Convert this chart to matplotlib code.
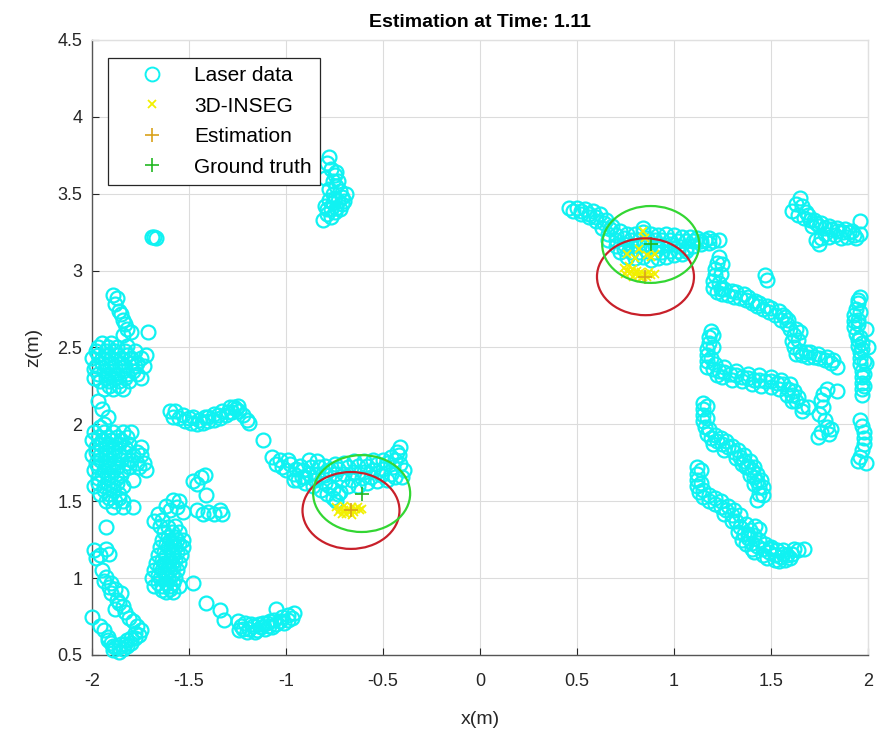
import matplotlib
matplotlib.use("Agg")
import matplotlib.pyplot as plt
from matplotlib.patches import Ellipse
from matplotlib.lines import Line2D

plt.rcParams['font.family'] = ['Liberation Sans', 'DejaVu Sans']

# ---------------- data ----------------
left_tower = [(-1.89,2.84),(-1.87,2.82),(-1.88,2.78),(-1.86,2.74),(-1.85,2.72),(-1.84,2.68),
              (-1.83,2.65),(-1.82,2.62),(-1.80,2.60),(-1.71,2.60),(-1.84,2.58),
              (-1.95,2.53),(-1.90,2.53),
              (-1.98,2.48),(-1.93,2.48),(-1.88,2.48),(-1.83,2.48),(-1.78,2.48),(-1.72,2.45),
              (-2.00,2.43),(-1.95,2.43),(-1.90,2.43),(-1.85,2.43),(-1.80,2.43),(-1.75,2.43),
              (-1.98,2.38),(-1.93,2.38),(-1.88,2.38),(-1.83,2.38),(-1.78,2.38),(-1.73,2.38),
              (-1.97,2.33),(-1.92,2.33),(-1.87,2.33),(-1.82,2.33),(-1.77,2.33),(-1.75,2.30),
              (-1.96,2.28),(-1.91,2.28),(-1.86,2.28),(-1.81,2.28),
              (-1.94,2.23),(-1.89,2.23),(-1.84,2.23),
              (-1.97,2.15),(-1.95,2.10),(-1.92,2.05),(-1.94,2.00),(-1.96,1.98),
              (-1.97,2.45),(-1.92,2.45),(-1.87,2.45),(-1.82,2.45),(-1.77,2.40),(-1.95,2.40),
              (-1.90,2.40),(-1.85,2.40),(-1.80,2.40),(-1.94,2.35),(-1.89,2.35),(-1.84,2.35),
              (-1.79,2.35),(-1.93,2.30),(-1.88,2.30),(-1.83,2.30),(-1.91,2.25),(-1.86,2.25),
              (-1.99,2.36),(-1.99,2.30),(-1.97,2.50),(-1.92,2.50),(-1.87,2.50),(-1.82,2.51)]
left_blob = [(-1.99,1.95),(-1.94,1.95),(-1.89,1.95),(-1.84,1.95),(-1.80,1.95),
             (-2.00,1.90),(-1.95,1.90),(-1.90,1.90),(-1.85,1.90),
             (-1.98,1.85),(-1.93,1.85),(-1.88,1.85),(-1.83,1.85),(-1.75,1.85),
             (-2.00,1.80),(-1.96,1.80),(-1.91,1.80),(-1.86,1.80),(-1.79,1.80),(-1.75,1.80),
             (-1.98,1.75),(-1.93,1.75),(-1.88,1.75),(-1.82,1.75),(-1.77,1.75),(-1.73,1.75),
             (-1.99,1.70),(-1.94,1.70),(-1.89,1.70),(-1.84,1.70),(-1.72,1.70),
             (-1.97,1.65),(-1.92,1.65),(-1.87,1.65),(-1.79,1.64),
             (-1.99,1.60),(-1.94,1.60),(-1.89,1.60),(-1.84,1.60),
             (-1.96,1.55),(-1.91,1.55),(-1.86,1.55),
             (-1.93,1.50),(-1.88,1.50),(-1.84,1.50),
             (-1.89,1.46),(-1.84,1.46),(-1.79,1.46),
             (-1.97,1.92),(-1.92,1.92),(-1.87,1.92),(-1.82,1.92),(-1.96,1.87),(-1.91,1.87),
             (-1.86,1.87),(-1.81,1.87),(-1.98,1.82),(-1.93,1.82),(-1.88,1.82),(-1.83,1.82),
             (-1.77,1.82),(-1.96,1.77),(-1.91,1.77),(-1.85,1.77),(-1.80,1.77),(-1.97,1.72),
             (-1.92,1.72),(-1.87,1.72),(-1.81,1.72),(-1.76,1.72),(-1.95,1.67),(-1.90,1.67),
             (-1.85,1.67),(-1.97,1.62),(-1.92,1.62),(-1.87,1.62),(-1.94,1.57),(-1.89,1.57),
             (-1.91,1.52),(-1.86,1.52)]
left_low = [(-1.93,1.33),(-1.99,1.18),(-1.96,1.15),(-1.93,1.19),(-1.91,1.16),(-1.98,1.13),
            (-1.95,1.05),(-1.93,1.01),(-1.90,0.97),(-1.88,0.93),(-1.85,0.90),(-1.87,0.86),
            (-1.84,0.82),(-1.88,0.80),(-1.83,0.78),(-2.00,0.75),
            (-1.96,0.69),(-1.94,0.66),(-1.92,0.62),(-1.90,0.58),(-1.88,0.55),(-1.86,0.52),
            (-1.84,0.54),(-1.82,0.56),(-1.80,0.58),(-1.78,0.61),(-1.76,0.63),(-1.75,0.66),
            (-1.77,0.69),(-1.79,0.72),(-1.81,0.74),(-1.89,0.53),(-1.85,0.57),
            (-1.92,0.60),(-1.89,0.56),(-1.86,0.55),(-1.83,0.57),(-1.80,0.61),(-1.78,0.64),
            (-1.82,0.60),(-1.94,0.98),(-1.91,0.94),(-1.86,0.84),(-1.90,0.90)]
small_top = [(-1.69,3.22),(-1.68,3.22),(-1.67,3.21)]
bar_top = [(-1.60,2.09),(-1.57,2.09),(-1.55,2.04),(-1.52,2.02),(-1.49,2.01),(-1.46,2.00),
           (-1.43,2.01),(-1.40,2.02),(-1.37,2.03),(-1.34,2.04),(-1.31,2.06),(-1.28,2.08),
           (-1.26,2.10),(-1.24,2.09),(-1.22,2.06),(-1.20,2.03),(-1.50,2.04),(-1.45,2.03),
           (-1.40,2.05),(-1.35,2.06),(-1.30,2.08),(-1.27,2.11),(-1.19,2.01),(-1.12,1.90),
           (-1.53,2.06),(-1.48,2.05),(-1.42,2.05),(-1.37,2.07),(-1.33,2.09),(-1.29,2.11),
           (-1.25,2.12),(-1.58,2.05)]
small_mid = [(-1.44,1.66),(-1.42,1.67),(-1.48,1.63),(-1.46,1.61),(-1.41,1.54),(-1.46,1.44),
             (-1.43,1.42),(-1.40,1.43),(-1.37,1.42),(-1.34,1.44),(-1.33,1.42)]
vert_blob = [(-1.58,1.51),(-1.55,1.50),(-1.62,1.47),(-1.66,1.42),(-1.60,1.44),(-1.56,1.46),
             (-1.53,1.43),(-1.68,1.37),(-1.64,1.38),
             (-1.63,1.30),(-1.59,1.30),(-1.55,1.30),
             (-1.64,1.25),(-1.60,1.25),(-1.56,1.25),(-1.53,1.25),
             (-1.65,1.20),(-1.61,1.20),(-1.57,1.20),(-1.53,1.20),
             (-1.66,1.15),(-1.62,1.15),(-1.58,1.15),(-1.54,1.15),
             (-1.67,1.10),(-1.63,1.10),(-1.59,1.10),(-1.55,1.10),
             (-1.68,1.05),(-1.64,1.05),(-1.60,1.05),(-1.56,1.05),
             (-1.69,1.00),(-1.65,1.00),(-1.61,1.00),(-1.57,1.00),
             (-1.68,0.95),(-1.64,0.95),(-1.60,0.95),(-1.55,0.95),
             (-1.62,0.91),(-1.58,0.91),
             (-1.61,1.27),(-1.57,1.27),(-1.62,1.22),(-1.58,1.22),(-1.55,1.22),(-1.63,1.17),
             (-1.59,1.17),(-1.56,1.17),(-1.64,1.12),(-1.60,1.12),(-1.57,1.12),(-1.65,1.07),
             (-1.61,1.07),(-1.58,1.07),(-1.66,1.02),(-1.62,1.02),(-1.59,1.02),(-1.66,0.97),
             (-1.62,0.97),(-1.58,0.97),(-1.64,0.92),(-1.60,0.93),(-1.61,1.33),(-1.57,1.34),
             (-1.65,1.34),
             (-1.48,0.97),(-1.41,0.84),(-1.34,0.79),(-1.32,0.73)]
bar_low = [(-1.25,0.72),(-1.23,0.69),(-1.21,0.71),(-1.19,0.67),(-1.17,0.69),(-1.15,0.66),
           (-1.13,0.68),(-1.11,0.67),(-1.09,0.69),(-1.07,0.68),(-1.05,0.70),(-1.03,0.72),
           (-1.01,0.71),(-0.99,0.73),(-0.97,0.74),(-0.96,0.77),(-1.05,0.80),(-1.24,0.66),
           (-1.20,0.65),(-1.12,0.71),(-1.08,0.72),
           (-1.22,0.67),(-1.18,0.70),(-1.14,0.70),(-1.10,0.71),(-1.06,0.73),(-1.02,0.75),
           (-0.99,0.76),(-1.16,0.65)]
mid_band = [(-1.07,1.79),(-1.03,1.77),(-0.98,1.74),(-0.93,1.73),(-0.88,1.77),(-0.84,1.76),
            (-0.80,1.73),(-0.75,1.74),(-0.70,1.75),(-0.65,1.76),(-0.60,1.76),(-0.55,1.77),
            (-0.50,1.77),(-0.46,1.79),(-0.43,1.82),(-0.41,1.85),
            (-1.00,1.70),(-0.96,1.68),(-0.92,1.66),(-0.88,1.68),(-0.84,1.68),(-0.80,1.67),
            (-0.75,1.68),(-0.70,1.68),(-0.65,1.69),(-0.60,1.69),(-0.55,1.70),(-0.50,1.71),
            (-0.45,1.72),(-0.41,1.74),(-0.39,1.70),
            (-0.94,1.64),(-0.90,1.62),(-0.86,1.60),(-0.82,1.57),(-0.79,1.55),(-0.76,1.52),
            (-0.74,1.50),(-0.72,1.56),(-0.68,1.60),(-0.63,1.60),(-0.58,1.62),(-0.53,1.63),
            (-0.48,1.64),(-0.44,1.66),(-0.40,1.66),
            (-1.05,1.74),(-1.02,1.72),(-0.99,1.77),(-0.95,1.71),(-0.91,1.70),(-0.87,1.72),
            (-0.83,1.72),(-0.78,1.70),(-0.73,1.71),(-0.68,1.72),(-0.63,1.73),(-0.58,1.73),
            (-0.53,1.74),(-0.48,1.75),(-0.44,1.77),(-0.42,1.80),(-0.90,1.66),(-0.85,1.64),
            (-0.80,1.62),(-0.76,1.58),(-0.71,1.64),(-0.66,1.64),(-0.61,1.65),(-0.56,1.66),
            (-0.51,1.67),(-0.46,1.68),(-0.78,1.60),(-0.73,1.55),(-0.96,1.64)]
top_mid = [(-0.78,3.74),(-0.79,3.70),(-0.77,3.66),(-0.75,3.62),(-0.76,3.58),(-0.74,3.55),
           (-0.72,3.52),(-0.71,3.48),(-0.73,3.45),(-0.76,3.50),(-0.78,3.46),(-0.80,3.42),
           (-0.77,3.40),(-0.74,3.41),(-0.71,3.43),(-0.79,3.37),(-0.81,3.33),(-0.77,3.35),
           (-0.70,3.45),(-0.69,3.50),
           (-0.75,3.47),(-0.78,3.53),(-0.73,3.58),(-0.76,3.44),(-0.72,3.40),(-0.79,3.40),
           (-0.75,3.38),(-0.80,3.60),(-0.74,3.64)]
right_band = [(0.46,3.41),(0.50,3.41),(0.54,3.40),(0.58,3.39),(0.62,3.37),(0.65,3.33),
              (0.68,3.29),(0.72,3.26),(0.76,3.24),(0.80,3.24),(0.84,3.25),(0.88,3.24),
              (0.92,3.23),(0.96,3.24),(1.00,3.23),(1.04,3.22),(1.08,3.22),(1.12,3.21),
              (1.16,3.20),(1.20,3.19),(1.23,3.20),(0.84,3.28),
              (0.52,3.37),(0.56,3.35),(0.60,3.32),(0.63,3.28),(0.66,3.24),(0.70,3.20),
              (0.74,3.17),(0.78,3.16),(0.82,3.16),(0.86,3.17),(0.90,3.16),(0.94,3.16),
              (0.98,3.17),(1.02,3.16),(1.06,3.15),(1.10,3.16),(1.14,3.17),(1.18,3.18),
              (0.72,3.12),(0.76,3.09),(0.80,3.08),(0.84,3.09),(0.88,3.07),(0.92,3.08),
              (0.96,3.09),(1.00,3.10),(1.04,3.11),
              (0.48,3.39),(0.52,3.39),(0.56,3.37),(0.60,3.35),(0.64,3.31),(0.67,3.27),
              (0.70,3.23),(0.74,3.21),(0.78,3.20),(0.82,3.20),(0.86,3.21),(0.90,3.20),
              (0.94,3.20),(0.98,3.20),(1.02,3.19),(1.06,3.19),(1.10,3.19),(1.14,3.19),
              (1.18,3.21),(0.74,3.14),(0.78,3.12),(0.82,3.12),(0.86,3.13),(0.90,3.12),
              (0.94,3.12),(0.98,3.13),(1.02,3.13),(1.06,3.13),(0.70,3.16),(0.66,3.20)]
far_top = [(1.65,3.47),(1.63,3.43),(1.61,3.39),(1.64,3.36),(1.67,3.34),(1.70,3.33),(1.73,3.31),
           (1.75,3.29),(1.78,3.28),(1.81,3.27),(1.84,3.26),(1.87,3.25),(1.90,3.25),(1.93,3.23),
           (1.96,3.24),(1.96,3.32),(1.75,3.17),(1.73,3.20),(1.86,3.21),(1.80,3.22),(1.68,3.38),
           (1.71,3.29),
           (1.66,3.42),(1.69,3.36),(1.72,3.33),(1.76,3.31),(1.80,3.29),(1.84,3.28),(1.88,3.27),
           (1.92,3.26),(1.78,3.24),(1.83,3.23),(1.89,3.22),(1.94,3.21),(1.76,3.21)]
diag1 = [(1.23,3.09),(1.22,3.05),(1.21,3.01),(1.21,2.97),(1.20,2.93),(1.20,2.89),(1.22,2.86),
         (1.25,2.85),(1.28,2.84),(1.31,2.83),(1.34,2.82),(1.37,2.81),(1.40,2.79),(1.43,2.77),
         (1.46,2.75),(1.49,2.73),(1.52,2.71),(1.55,2.68),(1.58,2.65),(1.60,2.62),(1.62,2.58),
         (1.61,2.54),(1.62,2.50),(1.63,2.46),(1.66,2.45),(1.69,2.44),(1.72,2.44),(1.75,2.43),
         (1.78,2.42),(1.81,2.40),(1.84,2.37),(1.24,2.88),(1.30,2.87),(1.36,2.85),(1.42,2.80),
         (1.48,2.77),(1.54,2.74),(1.57,2.70),(1.47,2.97),(1.48,2.94),(1.65,2.60),(1.70,2.47),
         (1.26,2.88),(1.32,2.86),(1.38,2.83),(1.44,2.79),(1.50,2.76),(1.56,2.71),(1.59,2.68),
         (1.63,2.62),(1.64,2.55),(1.65,2.48),(1.68,2.47),(1.74,2.46),(1.79,2.44),(1.82,2.42),
         (1.23,2.92),(1.24,2.98),(1.25,3.04)]
right_vert = [(1.96,2.83),(1.95,2.79),(1.94,2.75),(1.93,2.71),(1.93,2.67),(1.93,2.63),
              (1.94,2.59),(1.95,2.55),(1.95,2.51),(1.96,2.47),(1.96,2.43),(1.96,2.39),
              (1.97,2.35),(1.97,2.31),(1.97,2.27),(1.97,2.23),(1.97,2.19),(1.99,2.62),
              (2.00,2.50),(1.99,2.40),
              (1.95,2.81),(1.96,2.73),(1.95,2.65),(1.96,2.57),(1.97,2.49),(1.98,2.41),
              (1.98,2.33),(1.98,2.25),(1.95,2.68),(1.97,2.53)]
diag2 = [(1.19,2.61),(1.18,2.57),(1.18,2.53),(1.17,2.49),(1.17,2.45),(1.17,2.41),(1.17,2.37),
         (1.20,2.36),(1.23,2.35),(1.26,2.34),(1.29,2.33),(1.32,2.32),(1.35,2.31),(1.38,2.30),
         (1.41,2.29),(1.44,2.29),(1.47,2.28),(1.50,2.28),(1.53,2.27),(1.56,2.26),(1.59,2.23),
         (1.61,2.19),(1.63,2.15),(1.66,2.12),(1.69,2.11),(1.22,2.32),(1.30,2.29),(1.40,2.26),
         (1.50,2.24),(1.58,2.19),
         (1.20,2.58),(1.20,2.50),(1.19,2.43),(1.21,2.39),(1.26,2.37),(1.32,2.35),(1.38,2.33),
         (1.44,2.32),(1.50,2.31),(1.55,2.29),(1.60,2.26),(1.62,2.22),(1.64,2.18),(1.25,2.31),
         (1.35,2.28),(1.45,2.25),(1.54,2.23),(1.61,2.15),(1.66,2.09)]
small_right = [(1.77,2.20),(1.79,2.23),(1.84,2.22),(1.76,2.16),(1.77,2.11),(1.75,2.07),
               (1.78,2.03),(1.79,1.98),(1.76,1.95),(1.74,1.92),(1.80,1.94),(1.81,1.97)]
edge_right = [(1.96,2.03),(1.97,1.99),(1.98,1.95),(1.98,1.91),(1.98,1.87),(1.97,1.83),
              (1.96,1.79),(1.95,1.76),(1.99,1.75)]
diag3 = [(1.15,2.14),(1.15,2.10),(1.15,2.06),(1.15,2.02),(1.16,1.98),(1.17,1.94),(1.19,1.91),
         (1.22,1.89),(1.25,1.87),(1.28,1.85),(1.31,1.82),(1.34,1.79),(1.36,1.76),(1.38,1.73),
         (1.40,1.70),(1.41,1.66),(1.43,1.63),(1.44,1.59),(1.44,1.55),(1.43,1.51),(1.37,1.72),
         (1.39,1.67),(1.41,1.61),
         (1.17,2.12),(1.17,2.04),(1.18,1.97),(1.21,1.93),(1.24,1.91),(1.27,1.89),(1.30,1.86),
         (1.33,1.83),(1.36,1.80),(1.39,1.76),(1.41,1.72),(1.43,1.68),(1.45,1.64),(1.46,1.59),
         (1.46,1.54),(1.20,1.87),(1.26,1.83),(1.32,1.78),(1.35,1.74)]
diag4 = [(1.12,1.72),(1.12,1.68),(1.12,1.64),(1.12,1.60),(1.13,1.56),(1.15,1.53),(1.18,1.50),
         (1.21,1.48),(1.24,1.46),(1.27,1.44),(1.30,1.41),(1.32,1.37),(1.34,1.33),(1.36,1.29),
         (1.38,1.26),(1.40,1.23),(1.43,1.21),(1.46,1.19),(1.49,1.17),(1.52,1.15),(1.55,1.14),
         (1.58,1.15),(1.61,1.16),(1.64,1.18),(1.67,1.19),(1.44,1.32),(1.42,1.34),(1.35,1.25),
         (1.40,1.19),(1.46,1.15),(1.52,1.12),(1.57,1.12),(1.33,1.30),(1.50,1.20),(1.56,1.18),
         (1.60,1.13),
         (1.14,1.70),(1.14,1.62),(1.15,1.57),(1.18,1.54),(1.21,1.52),(1.24,1.50),(1.28,1.47),
         (1.31,1.44),(1.34,1.41),(1.37,1.35),(1.39,1.31),(1.41,1.28),(1.44,1.25),(1.47,1.22),
         (1.50,1.19),(1.53,1.18),(1.56,1.16),(1.62,1.19),(1.37,1.22),(1.41,1.17),(1.48,1.13),
         (1.54,1.11),(1.26,1.42),(1.30,1.37),(1.38,1.29)]

laser_clusters = [left_tower, left_blob, left_low, small_top, bar_top, small_mid, vert_blob,
                  bar_low, mid_band, top_mid, right_band, far_top, diag1, right_vert, diag2,
                  small_right, edge_right, diag3, diag4]

inseg_pts = [(-0.74,1.46),(-0.72,1.45),(-0.70,1.44),(-0.68,1.45),(-0.66,1.46),(-0.64,1.45),
             (-0.62,1.44),(-0.73,1.43),(-0.71,1.42),(-0.69,1.42),(-0.67,1.43),(-0.65,1.43),
             (-0.63,1.46),(-0.61,1.45),(-0.70,1.47),(-0.66,1.41),
             (0.74,3.02),(0.76,3.00),(0.78,2.99),(0.80,2.98),(0.82,2.97),(0.84,2.96),(0.86,2.96),
             (0.88,2.97),(0.90,2.98),(0.77,3.03),(0.79,3.01),(0.81,3.00),(0.83,2.99),(0.85,2.98),
             (0.87,2.99),(0.75,2.98),(0.79,2.96),(0.83,2.95),(0.76,3.11),(0.80,3.08),(0.88,3.09),
             (0.90,3.11),(0.86,3.10),(0.84,3.26),(0.85,3.21),(0.82,3.14)]

est_x = [-0.665, 0.853]
est_y = [1.44, 2.96]
gt_x = [-0.61, 0.88]
gt_y = [1.55, 3.17]
radius = 0.25

x_ticks = [-2, -1.5, -1, -0.5, 0, 0.5, 1, 1.5, 2]
y_ticks = [0.5, 1, 1.5, 2, 2.5, 3, 3.5, 4, 4.5]
x_ticklabels = ['-2', '-1.5', '-1', '-0.5', '0', '0.5', '1', '1.5', '2']
y_ticklabels = ['0.5', '1', '1.5', '2', '2.5', '3', '3.5', '4', '4.5']
legend_labels = ['Laser data', '3D-INSEG', 'Estimation', 'Ground truth']

CYAN = '#10F2F2'
YEL = '#F2F000'
EST = '#D9A21B'
GT = '#22B822'

# ---------------- plot ----------------
fig = plt.figure(figsize=(8.78, 7.32), dpi=100)
ax = fig.add_axes([0.1048, 0.1052, 0.8838, 0.8402])

lx = [p[0] for c in laser_clusters for p in c]
ly = [p[1] for c in laser_clusters for p in c]
ax.plot(lx, ly, 'o', ms=10, mfc='none', mec=CYAN, mew=1.6, clip_on=False, zorder=3)

ix = [p[0] for p in inseg_pts]
iy = [p[1] for p in inseg_pts]
ax.plot(ix, iy, 'x', ms=6, color=YEL, mew=1.3, zorder=4)

ax.plot(est_x, est_y, '+', ms=10, color=EST, mew=1.2, zorder=5)
ax.plot(gt_x, gt_y, '+', ms=10, color=GT, mew=1.2, zorder=5)

for cx, cy in zip(est_x, est_y):
    ax.add_patch(Ellipse((cx, cy), 2 * radius, 2 * radius, fill=False,
                         ec='#C8202A', lw=1.6, zorder=6))
for cx, cy in zip(gt_x, gt_y):
    ax.add_patch(Ellipse((cx, cy), 2 * radius, 2 * radius, fill=False,
                         ec='#33D633', lw=1.6, zorder=6))

ax.set_xlim(-2, 2)
ax.set_ylim(0.5, 4.5)
ax.set_xticks(x_ticks)
ax.set_yticks(y_ticks)
ax.set_xticklabels(x_ticklabels)
ax.set_yticklabels(y_ticklabels)
ax.tick_params(direction='in', length=5, labelsize=13, colors='#262626')
ax.tick_params(axis='x', pad=13)
ax.tick_params(axis='y', pad=7)
ax.grid(True, color='#DCDCDC', lw=0.8)
ax.set_axisbelow(True)
for s in ['left', 'bottom']:
    ax.spines[s].set_color('#555555')
    ax.spines[s].set_linewidth(1.0)
for s in ['top', 'right']:
    ax.spines[s].set_color('#E0E0E0')
    ax.spines[s].set_linewidth(1.0)

ax.set_xlabel('x(m)', fontsize=14, color='#262626', labelpad=15)
ax.set_ylabel('z(m)', fontsize=14, color='#262626', labelpad=11)
ax.set_title('Estimation at Time: 1.11', fontsize=14, fontweight='bold', pad=9)

handles = [
    Line2D([], [], ls='none', marker='o', ms=10, mfc='none', mec=CYAN, mew=1.4),
    Line2D([], [], ls='none', marker='x', ms=6, color=YEL, mew=1.3),
    Line2D([], [], ls='none', marker='+', ms=10, color=EST, mew=1.2),
    Line2D([], [], ls='none', marker='+', ms=10, color=GT, mew=1.2),
]
leg = ax.legend(handles, legend_labels, loc='upper left', bbox_to_anchor=(0.0206, 0.9707),
                borderaxespad=0, fontsize=15, frameon=True, fancybox=False,
                edgecolor='#262626', framealpha=1, handlelength=3.4, handletextpad=0.35,
                labelspacing=0.55, borderpad=0.4)
leg.get_frame().set_linewidth(0.9)

fig.savefig('out.png', dpi=100)
